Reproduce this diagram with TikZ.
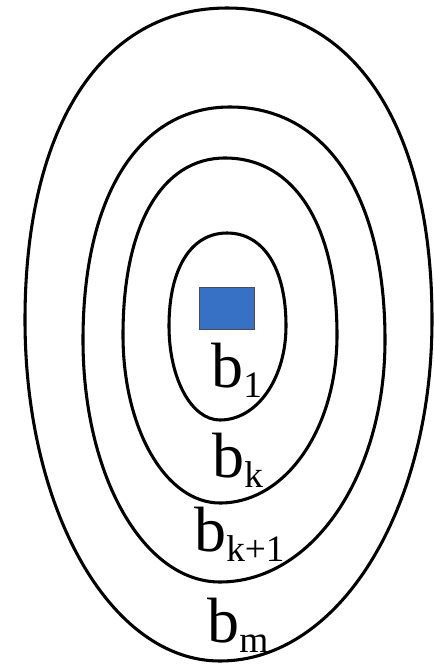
\documentclass[tikz,border=0pt]{standalone}
\usepackage{fontspec}
\setmainfont{Liberation Serif}
\definecolor{boxblue}{RGB}{54,113,198}
\newcommand{\lowsub}[1]{\raisebox{-7.5pt}{\fontsize{28}{28}\selectfont #1}}

\begin{document}
\begin{tikzpicture}[x=.75pt,y=-.75pt,ring/.style={line width=2.3pt},lbl/.style={anchor=base west,inner sep=0pt,font=\fontsize{48}{48}\selectfont}]
\useasboundingbox (0,0) rectangle (434,664);
% rings, inside out: top x/y, right x, mid y, bottom x/y, left x
\foreach \xt/\yt/\xr/\ym/\xb/\yb/\xl in {227/233/286/326/220/420/169,225/158/337/335/220/503/123,230/107/385/340/220/582/83,227/8/432/320/220/661/25}
  \draw[ring] (\xt,\yt) .. controls ({\xt+.62*(\xr-\xt)},\yt) and (\xr,{\ym-.62*(\ym-\yt)}) .. (\xr,\ym)
    .. controls (\xr,{\ym+.56*(\yb-\ym)}) and ({\xb+.56*(\xr-\xb)},\yb) .. (\xb,\yb)
    .. controls ({\xb-.56*(\xb-\xl)},\yb) and (\xl,{\ym+.56*(\yb-\ym)}) .. (\xl,\ym)
    .. controls (\xl,{\ym-.62*(\ym-\yt)}) and ({\xt-.62*(\xt-\xl)},\yt) .. cycle;
\node[draw=black!70,fill=boxblue,minimum width=41pt,minimum height=31.5pt,inner sep=0pt,line width=.4pt] (box) at (226.5,308) {};
\node[lbl] (b1) at (211,387) {b\lowsub{1}};
\node[lbl] (bk) at (212,477) {b\lowsub{k}};
\node[lbl] (bk1) at (194,551) {b\lowsub{k+1}};
\node[lbl] (bm) at (207,642) {b\lowsub{m}};
\end{tikzpicture}
\end{document}
